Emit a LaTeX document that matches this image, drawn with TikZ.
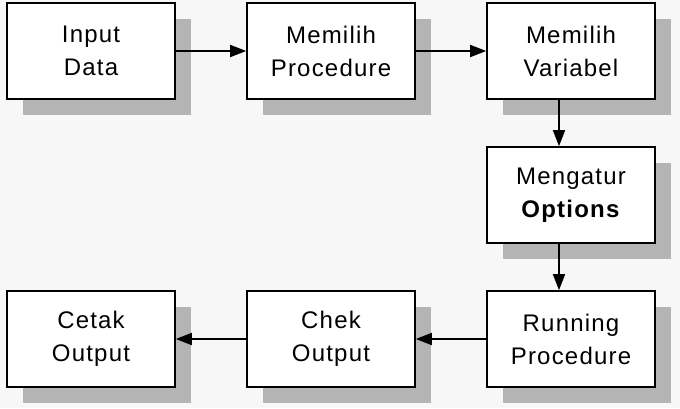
\documentclass[tikz,border=0pt]{standalone}
\usepackage{fontspec}
\setmainfont[LetterSpace=5]{Liberation Sans}
\usetikzlibrary{arrows.meta,shadows}
\definecolor{bgc}{HTML}{F7F7F7}
\definecolor{shc}{HTML}{B4B4B4}
\begin{document}
\begin{tikzpicture}[x=1pt,y=1pt,
  box/.style={draw=black, fill=white, line width=1.6pt, minimum width=168pt, minimum height=96pt,
    align=center, inner sep=0pt, font=\fontsize{24}{33}\selectfont,
    drop shadow={shadow xshift=16pt, shadow yshift=-16pt, fill=shc, opacity=1, draw=none}},
  conn/.style={line width=1.6pt, -{Triangle[length=16pt,width=12pt]}}]
\fill[bgc] (0,0) rectangle (680,408);
\useasboundingbox (0,0) rectangle (680,408);
\node[box] (b1) at (91,357) {Input\\Data};
\node[box] (b2) at (331,357) {Memilih\\Procedure};
\node[box] (b3) at (571,357) {Memilih\\Variabel};
\node[box] (b4) at (571,213) {Mengatur\\\textbf{Options}};
\node[box] (b5) at (571,69) {Running\\Procedure};
\node[box] (b6) at (331,69) {Chek\\Output};
\node[box] (b7) at (91,69) {Cetak\\Output};
\draw[conn] (b1) -- (b2);
\draw[conn] (b2) -- (b3);
\draw[conn] ([xshift=-12pt]b3.south) -- ([xshift=-12pt]b4.north);
\draw[conn] ([xshift=-12pt]b4.south) -- ([xshift=-12pt]b5.north);
\draw[conn] (b5) -- (b6);
\draw[conn] (b6) -- (b7);
\end{tikzpicture}
\end{document}
